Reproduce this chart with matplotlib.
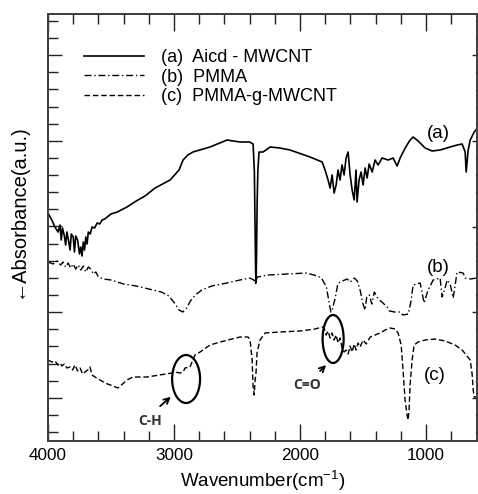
import matplotlib
matplotlib.use("Agg")
import matplotlib.pyplot as plt
import numpy as np
from matplotlib.patches import Ellipse

plt.rcParams['font.family'] = ['Liberation Sans', 'DejaVu Sans']

# (a) Aicd - MWCNT  (solid)
a_wn = [4000, 3970, 3945, 3920, 3905, 3895, 3885, 3870, 3860, 3850, 3835, 3825, 3815,
        3800, 3790, 3780, 3765, 3750, 3740, 3730, 3720, 3710, 3700, 3690, 3680, 3665,
        3650, 3630, 3610, 3590, 3570, 3550, 3500, 3450, 3373, 3300, 3230, 3150, 3031,
        2960, 2928, 2890, 2850, 2714, 2579, 2530, 2476, 2400, 2372, 2362, 2356, 2352,
        2349, 2345, 2340, 2334, 2325, 2293, 2237, 2160, 2079, 1920, 1824, 1801, 1777,
        1761, 1745, 1729, 1713, 1698, 1682, 1666, 1650, 1634, 1618, 1602, 1586, 1570,
        1555, 1547, 1531, 1515, 1499, 1483, 1467, 1451, 1427, 1404, 1380, 1348, 1300,
        1261, 1229, 1205, 1165, 1126, 1102, 1062, 1007, 951, 888, 808, 753, 713, 689,
        681, 665, 649, 617, 585]
a_abs = [219, 212, 205, 200, 207, 192, 204, 196, 187, 200, 190, 182, 198,
         195, 180, 196, 192, 178, 185, 176, 190, 182, 195, 188, 200, 198,
         205, 204, 209, 208, 212, 213, 218, 220, 225, 231, 236, 244, 252,
         262, 272, 277, 280, 285, 292, 291, 290, 290, 288, 260, 200, 160,
         149, 175, 230, 262, 280, 280, 285, 284, 282, 275, 270, 262, 252,
         244, 257, 239, 247, 262, 252, 267, 257, 274, 280, 257, 242, 232,
         262, 230, 252, 260, 247, 264, 254, 268, 260, 272, 267, 274, 272,
         274, 266, 274, 284, 292, 295, 291, 284, 281, 282, 285, 287, 288, 280,
         260, 282, 292, 300, 305]

# (b) PMMA  (dash-dot)
b_wn = [4000, 3960, 3930, 3900, 3880, 3860, 3840, 3820, 3800, 3780,
        3760, 3740, 3720, 3700, 3680, 3660, 3640, 3620, 3600, 3560,
        3500, 3400, 3300, 3200, 3100, 3040, 2990, 2960, 2930, 2900,
        2870, 2830, 2780, 2700, 2580, 2476, 2400, 2365, 2355, 2340,
        2250, 2100, 1950, 1860, 1830, 1790, 1770, 1755, 1745, 1720,
        1700, 1682, 1626, 1600, 1570, 1545, 1523, 1500, 1483, 1470,
        1450, 1430, 1410, 1388, 1370, 1350, 1308, 1290, 1250, 1205,
        1182, 1140, 1120, 1102, 1046, 1015, 983, 943, 888, 872,
        848, 832, 808, 784, 753, 705, 689, 649, 594]
b_abs = [170, 168, 171, 167, 170, 165, 169, 164, 168, 163,
         167, 162, 166, 160, 165, 163, 158, 160, 155, 153,
         152, 148, 146, 143, 140, 136, 128, 122, 120, 124,
         131, 137, 142, 146, 149, 152, 154, 152, 148, 155,
         157, 158, 159, 156, 154, 145, 130, 120, 122, 134,
         148, 150, 153, 150, 154, 151, 142, 128, 122, 135,
         137, 128, 140, 135, 132, 130, 125, 121, 120, 120,
         117, 118, 130, 147, 149, 129, 142, 152, 154, 135,
         144, 152, 148, 134, 160, 159, 154, 153, 154]

# (c) PMMA-g-MWCNT  (dashed)
c_wn = [4000, 3970, 3945, 3920, 3905, 3890, 3870, 3850, 3825, 3805, 3786, 3765, 3746,
        3725, 3706, 3685, 3667, 3650, 3627, 3587, 3547, 3444, 3373, 3325, 3214, 3016,
        2992, 2952, 2928, 2912, 2873, 2857, 2833, 2793, 2714, 2634, 2476, 2412, 2396,
        2380, 2372, 2364, 2356, 2349, 2341, 2317, 2277, 2158, 1999, 1880, 1824, 1808,
        1792, 1777, 1761, 1745, 1729, 1713, 1698, 1682, 1666, 1650, 1634, 1618, 1602,
        1586, 1570, 1555, 1539, 1523, 1499, 1475, 1443, 1404, 1364, 1324, 1284, 1245,
        1221, 1197, 1182, 1166, 1150, 1142, 1134, 1126, 1110, 1094, 1062, 1007, 927,
        848, 769, 713, 681, 649, 633, 625, 617, 594]
c_abs = [72, 70, 71, 67, 69, 66, 68, 64, 65, 62, 67, 61, 64,
         58, 60, 62, 65, 57, 55, 52, 49, 44, 52, 55, 55, 59,
         60, 59, 60, 64, 65, 70, 77, 80, 87, 90, 95, 95, 92,
         72, 45, 37, 52, 59, 79, 92, 99, 100, 101, 103, 105, 104,
         97, 101, 94, 99, 92, 97, 89, 94, 84, 80, 82, 78, 86,
         80, 88, 82, 89, 85, 92, 88, 95, 97, 99, 102, 104, 103,
         99, 87, 62, 32, 17, 12, 22, 47, 72, 87, 90, 92, 93,
         91, 87, 82, 77, 72, 57, 42, 35, 35]

fig = plt.figure(figsize=(4.78, 4.94), dpi=100)
ax = fig.add_axes([48 / 478, 53 / 494, 429 / 478, 427 / 494])

ax.plot(a_wn, a_abs, '-', color='black', lw=1.2, label='(a)  Aicd - MWCNT')
ax.plot(b_wn, b_abs, color='black', lw=1.0, linestyle=(0, (5, 2, 1, 2)), label='(b)  PMMA')
ax.plot(c_wn, c_abs, color='black', lw=1.0, linestyle=(0, (4, 2)), label='(c)  PMMA-g-MWCNT')

ax.set_xlim(4000, 595)
ax.set_ylim(-9, 418)

step = 411 / 24
yt = np.arange(25) * step
ax.set_xticks([4000, 3000, 2000, 1000])
ax.set_xticks(np.arange(800, 4000, 200), minor=True)
ax.set_yticks(yt[[2, 7, 12, 17, 22]])
ax.set_yticks(yt, minor=True)
ax.set_yticklabels([])
ax.tick_params(axis='x', which='major', direction='in', length=12, width=1, top=True,
               labelsize=12.3, pad=5, color='#222222')
ax.tick_params(axis='x', which='minor', direction='in', length=7, width=1, top=True, color='#222222')
ax.tick_params(axis='y', which='major', direction='in', length=10, width=1, right=False, color='#222222')
ax.tick_params(axis='y', which='minor', direction='in', length=7, width=1, right=False, color='#222222')

ax2 = ax.twinx()
ax2.set_ylim(ax.get_ylim())
ax2.set_yticks(yt[[2, 7, 12, 17, 22]])
ax2.set_yticks(yt, minor=True)
ax2.set_yticklabels([])
ax2.tick_params(axis='y', which='major', direction='in', length=3.6, width=1, color='#222222')
ax2.tick_params(axis='y', which='minor', direction='in', length=1.5, width=0.8, color='#999999')

for a in (ax, ax2):
    for s in a.spines.values():
        s.set_linewidth(1.3)
        s.set_color('#404040')

ax.set_xlabel('Wavenumber(cm$^{\\mathregular{-1}}$)', fontsize=13.5, labelpad=4)
ax.set_ylabel('\u2190Absorbance(a.u.)', fontsize=14.5)
ax.yaxis.set_label_coords(-0.05, 0.54)

ax.legend(loc='upper left', bbox_to_anchor=(0.085, 0.918), frameon=False, fontsize=13,
          handlelength=3.3, handletextpad=0.95, labelspacing=0.15, borderpad=0, borderaxespad=0)

ax.text(903, 299, '(a)', fontsize=13.5, ha='center', va='center')
ax.text(903, 165, '(b)', fontsize=13.5, ha='center', va='center')
ax.text(927, 57, '(c)', fontsize=13.5, ha='center', va='center')

# band markers
ax.add_patch(Ellipse((2904, 53), 222, 48, fill=False, lw=1.6, color='black'))
ax.add_patch(Ellipse((1737, 93), 167, 48, fill=False, lw=1.6, color='black'))
ax.annotate('', xy=(3008, 37), xytext=(3127, 24),
            arrowprops=dict(arrowstyle='->', lw=1.3, color='black'))
ax.annotate('', xy=(1777, 69), xytext=(1856, 59),
            arrowprops=dict(arrowstyle='->', lw=1.3, color='black'))
ax.text(3190, 11, 'C-H', fontsize=10, fontweight='bold', color='#333333',
        family=['Open Sans', 'DejaVu Sans'], ha='center', va='center')
ax.text(1944, 47, 'C=O', fontsize=10, fontweight='bold', color='#333333',
        family=['Open Sans', 'DejaVu Sans'], ha='center', va='center')

fig.savefig('out.png', dpi=100)
